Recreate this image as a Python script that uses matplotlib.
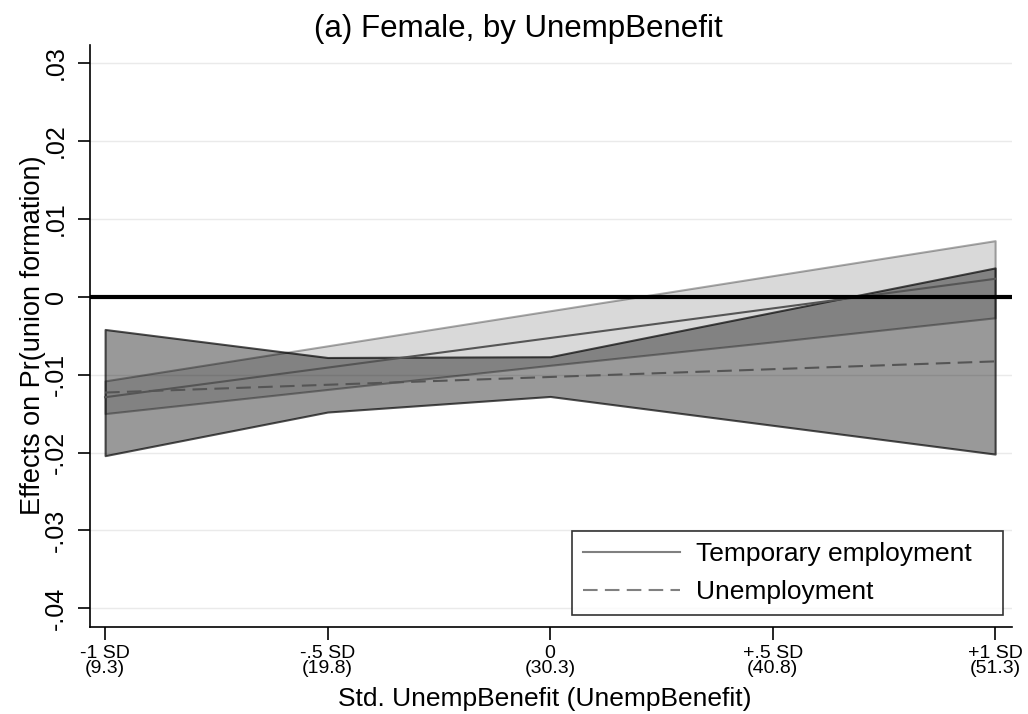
import numpy as np
import matplotlib
matplotlib.use("Agg")
import matplotlib.pyplot as plt

plt.rcParams['font.family'] = ['Liberation Sans', 'DejaVu Sans']

# positions on standardized UnempBenefit axis
sd_pos = [-1, -0.5, 0, 0.5, 1]
tick_labels = ['-1 SD\n(9.3)', '-.5 SD\n(19.8)', '0\n(30.3)', '+.5 SD\n(40.8)', '+1 SD\n(51.3)']

# temporary employment: effect and CI
temp_eff = [-0.0129, -0.0091, -0.0053, -0.0015, 0.0023]
temp_hi = [-0.0108, -0.0063, -0.0018, 0.0027, 0.0072]
temp_lo = [-0.0150, -0.0119, -0.0088, -0.0058, -0.0027]

# unemployment: effect and CI
unemp_eff = [-0.0123, -0.0113, -0.0103, -0.0093, -0.0083]
unemp_hi = [-0.0042, -0.0078, -0.0077, -0.0020, 0.0037]
unemp_lo = [-0.0204, -0.0148, -0.0128, -0.0165, -0.0202]

yticks = [-0.04, -0.03, -0.02, -0.01, 0, 0.01, 0.02, 0.03]
ytick_labels = ['-.04', '-.03', '-.02', '-.01', '0', '.01', '.02', '.03']

fig = plt.figure(figsize=(10.28, 7.14), dpi=100)
ax = fig.add_axes([0.0875, 0.1218, 0.897, 0.815])

for y in yticks:
    ax.axhline(y, color='#eaeaea', lw=1, zorder=0)

ax.fill_between(sd_pos, temp_lo, temp_hi, facecolor=(0, 0, 0, 0.15),
                edgecolor=(0, 0, 0, 0.33), lw=1.5, zorder=2)
ax.fill_between(sd_pos, unemp_lo, unemp_hi, facecolor=(0, 0, 0, 0.40),
                edgecolor=(0, 0, 0, 0.68), lw=1.5, zorder=3)

ax.plot(sd_pos, temp_eff, color='#555555', lw=1.5, zorder=4, label='Temporary employment')
ax.plot(sd_pos, unemp_eff, color='#555555', lw=1.5, ls=(0, (7, 3.5)), zorder=4, label='Unemployment')
ax.axhline(0, color='black', lw=3, zorder=5)

ax.set_xlim(-1.034, 1.038)
ax.set_ylim(-0.0424, 0.0323)
ax.set_xticks(sd_pos)
ax.set_xticklabels(tick_labels, fontsize=14, linespacing=0.85)
ax.set_yticks(yticks)
ax.set_yticklabels(ytick_labels, fontsize=18, rotation=90, va='center')
ax.tick_params(axis='both', direction='out', length=9, width=1.2, colors='black')
ax.tick_params(axis='x', pad=4)
ax.tick_params(axis='y', pad=7)

for s in ['top', 'right']:
    ax.spines[s].set_visible(False)
for s in ['left', 'bottom']:
    ax.spines[s].set_linewidth(1.2)

ax.set_title('(a) Female, by UnempBenefit', fontsize=22.5, x=0.465, y=1.014, pad=0)
ax.set_xlabel('Std. UnempBenefit (UnempBenefit)', fontsize=19)
ax.xaxis.set_label_coords(0.4935, -0.1357)
ax.xaxis.label.set_va('baseline')
ax.set_ylabel('Effects on Pr(union formation)', fontsize=19.5)
ax.yaxis.set_label_coords(-0.048, 0.502)

handles, labels = ax.get_legend_handles_labels()
leg = ax.legend(handles, labels, loc='lower left', fontsize=19, frameon=True,
                fancybox=False, edgecolor='black', handlelength=3.7,
                handletextpad=0.6, borderpad=0.4, labelspacing=0.55,
                borderaxespad=0, mode='expand',
                bbox_to_anchor=(0.5228, 0.0206, 0.4675, 0))
leg.get_frame().set_linewidth(1.2)
for h in leg.get_lines():
    h.set_color('#808080')

fig.savefig('out.png', dpi=100)
